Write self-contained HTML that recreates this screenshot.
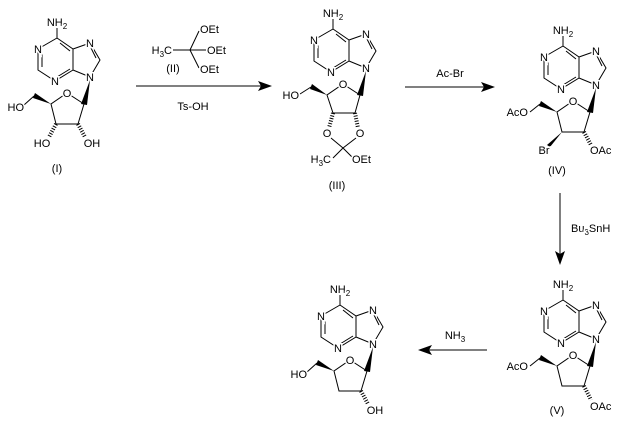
<!DOCTYPE html>
<html><head><meta charset="utf-8"><style>
html,body{margin:0;padding:0;background:#fff;}
svg{display:block;}
text{font-family:"Liberation Sans",Arial,sans-serif;font-size:11px;fill:#000;stroke:#fff;stroke-width:3px;paint-order:stroke;}
.b{stroke:#000;stroke-width:1;fill:none;}
.h{stroke:#000;stroke-width:4;stroke-dasharray:1 1.6;fill:none;}
</style></head><body>
<svg width="618" height="424" viewBox="0 0 618 424" xmlns="http://www.w3.org/2000/svg">
<defs>
<g id="base">
  <path class="b" d="M57,28L57,38L38,49L38,70L55,81L73,70L73,49L57,38M73,49L90,43L100,60L90,77L73,70M60,43L70,51M42,52L42,67M57,77L70,69M91,48L96,58"/>
  <text x="57" y="26" text-anchor="middle">NH<tspan font-size="8" dy="3">2</tspan></text>
  <text x="38" y="53" text-anchor="middle">N</text>
  <text x="55" y="85" text-anchor="middle">N</text>
  <text x="90" y="47" text-anchor="middle">N</text>
  <text x="90" y="81" text-anchor="middle">N</text>
  <polygon points="90,80 81,104 87,105" fill="#000"/>
</g>
<g id="ring">
  <path class="b" d="M84,104L67,93L51,104L56,124L78,124L84,104"/>
  <circle cx="67" cy="93" r="5" fill="#fff"/>
  <text x="67" y="97" text-anchor="middle">O</text>
  <polygon points="51,104 35,93 33,98" fill="#000"/>
</g>
</defs>

<!-- (I) -->
<g>
  <use href="#base"/><use href="#ring"/>
  <path class="b" d="M34,96L24,105"/>
  <text x="24" y="111" text-anchor="end">HO</text>
  <path class="h" d="M56,124L49,137"/><path class="h" d="M78,124L85,137"/>
  <text x="42" y="147" text-anchor="middle">HO</text>
  <text x="92" y="147" text-anchor="middle">OH</text>
  <text x="57" y="172" text-anchor="middle">(I)</text>
</g>

<!-- reagent II & arrow 1 -->
<path class="b" d="M173,50L190,50M190,50L199,31M190,50L206,50M190,50L199,68"/>
<text x="172" y="54" text-anchor="end">H<tspan font-size="8" dy="3">3</tspan><tspan dy="-3">C</tspan></text>
<text x="200" y="33">OEt</text>
<text x="207" y="54">OEt</text>
<text x="200" y="73">OEt</text>
<text x="173" y="72" text-anchor="middle">(II)</text>
<path class="b" d="M136,86L262,86"/>
<polygon points="272,86 258,81 261,86 258,91" fill="#000"/>
<text x="193" y="110" text-anchor="middle">Ts-OH</text>

<!-- (III) -->
<g transform="translate(276,-9)"><use href="#base"/></g>
<path class="b" d="M360,95L343,84L327,95L333,113L355,113L360,95"/>
<circle cx="343" cy="84" r="5" fill="#fff"/>
<text x="343" y="88" text-anchor="middle">O</text>
<polygon points="327,95 312,84 310,89" fill="#000"/>
<path class="b" d="M311,87L300,94"/>
<text x="299" y="99" text-anchor="end">HO</text>
<path class="h" d="M333,113L329,128"/><path class="h" d="M355,113L358,128"/>
<text x="327" y="137" text-anchor="middle">O</text>
<text x="360" y="137" text-anchor="middle">O</text>
<path class="b" d="M331,138L343,148L356,138M343,148L333,158M343,148L353,158"/>
<text x="331" y="163" text-anchor="end">H<tspan font-size="8" dy="3">3</tspan><tspan dy="-3">C</tspan></text>
<text x="352" y="163">OEt</text>
<text x="337" y="189" text-anchor="middle">(III)</text>

<!-- arrow 2 -->
<path class="b" d="M405,87L485,87"/>
<polygon points="495,87 481,82 484,87 481,92" fill="#000"/>
<text x="450" y="77" text-anchor="middle">Ac-Br</text>

<!-- (IV) -->
<g transform="translate(506,8)">
  <use href="#base"/><use href="#ring"/>
  <path class="b" d="M34,96L24,104"/>
  <text x="22" y="108" text-anchor="end">AcO</text>
  <polygon points="56,124 41,137 44,139" fill="#000"/>
  <path class="h" d="M78,124L85,137"/>
  <text x="38" y="146" text-anchor="middle">Br</text>
  <text x="84" y="146">OAc</text>
  <text x="51" y="166" text-anchor="middle">(IV)</text>
</g>

<!-- arrow 3 -->
<path class="b" d="M560,193L560,255"/>
<polygon points="560,265 555,251 560,254 565,251" fill="#000"/>
<text x="571" y="232">Bu<tspan font-size="8" dy="3">3</tspan><tspan dy="-3">SnH</tspan></text>

<!-- (V) -->
<g transform="translate(506,262)">
  <use href="#base"/><use href="#ring"/>
  <path class="b" d="M34,96L24,104"/>
  <text x="22" y="108" text-anchor="end">AcO</text>
  <path class="h" d="M78,124L85,138"/>
  <text x="84" y="148">OAc</text>
  <text x="51" y="152" text-anchor="middle">(V)</text>
</g>

<!-- arrow 4 -->
<path class="b" d="M487,350L428,350"/>
<polygon points="418,350 432,345 429,350 432,355" fill="#000"/>
<text x="455" y="339" text-anchor="middle">NH<tspan font-size="8" dy="3">3</tspan></text>

<!-- product -->
<g transform="translate(283,267)">
  <use href="#base"/><use href="#ring"/>
  <path class="b" d="M34,96L24,105"/>
  <text x="24" y="111" text-anchor="end">HO</text>
  <path class="h" d="M78,124L85,137"/>
  <text x="92" y="147" text-anchor="middle">OH</text>
</g>
</svg>
</body></html>
